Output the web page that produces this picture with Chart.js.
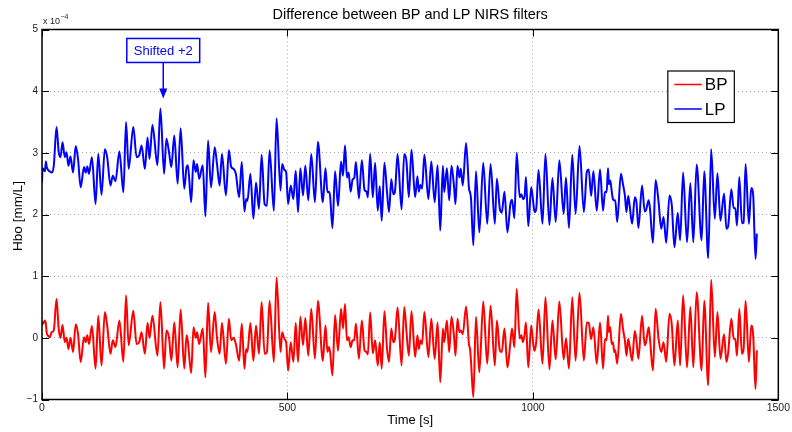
<!DOCTYPE html>
<html><head><meta charset="utf-8">
<script src="https://cdn.jsdelivr.net/npm/chart.js@4/dist/chart.umd.min.js"></script>
<style>html,body{margin:0;padding:0;background:#fff}canvas{display:block}</style>
</head><body>
<canvas id="c" width="792" height="432"></canvas>
<script>
// Time axis (s)
const times = [
0,1.3,6,8,9.4,12.8,16,19.5,24,29.6,34,37.7,41.8,46.5,49.9,53.9,58,63.3,68.7,73.4,
78.8,85.6,89,92.3,95.7,101.7,109.2,114.6,121.3,128,132.8,139.5,144.2,149.6,157.7,165.8,171.2,176.5,186,192.7,
198.1,202.8,209.6,215,219,225,235.2,241.2,248.7,253.4,258.8,263.5,269.5,276.3,282.4,289.8,294.5,297.2,303.9,308.6,
313.3,316,320.1,327.5,332.9,338.3,344.3,351.8,356.5,361.9,366.6,374.7,380.7,385.5,
390.2,394.9,401.6,407,412.4,415.8,418.5,424.5,430.6,436,442,447.4,453.5,458.2,463.6,472.4,477.8,485.9,489.2,493.9,
497.3,501.4,506.7,512.1,516.9,521.6,526.3,531.7,536.4,542.5,548.5,556,562,572.1,
577.5,581.5,584.2,586.9,591.7,597,603.1,609.2,613.2,617.3,621.3,624.7,628.7,632.8,636.1,639.5,645.6,651.6,657,661.1,
663.8,668.5,673.9,678.6,684,688,692.1,697.5,702.9,706.9,711.6,715.6,719,724.4,732.5,737.9,742.6,747.3,752.7,760.1,
764.8,767.5,770.9,774.3,
779,787.1,793.1,799.9,805.9,811.3,816.7,819.4,824.8,829.5,834.2,839.6,842.3,846.4,850.4,853.1,857.2,863.9,870,872,
874,878.7,884.1,890.9,898.9,907,913.8,922.5,926.6,932.6,936.7,942.1,948.1,954.2,957.6,962.3,
967,973.1,976.4,979.8,983.2,985.9,990.6,996.6,1000.7,1003.4,1006.8,1011.5,1019.6,1025.6,1033.7,1039.8,1046.5,1053.9,1062.7,1067.4,
1073.5,1080.2,1087,1095,1103.8,1109.9,1113.9,1118.6,1123.3,1130.1,1136.8,1142.9,1146.9,1150.3,1153,
1155,1157.7,1160.4,1163.1,1165.8,1167.8,1171.8,1179.3,1184,1187.4,1190.7,1194.1,1196.8,1202.2,1207.6,1211,1215,1222.4,1227.8,1230.5,
1235.9,1238.6,1244.6,1250,1256.1,1261.5,1266.2,1271.6,1278.3,1283,1288.4,1295.2,1299.9,1306,1314,1320.8,1326.8,1333.6,1343.7,1349.1,
1357.2,1363.2,1370.6,1376,1382.1,1389.5,1394.2,1397.6,1404.3,1409.1,1412.4,1415.8,1420.5,1425.9,1429.3,1433.3,1440.1,1444.8,1448.8,1453.5,
1456.2
];
// BP filtered Hbo (x 1e-4 mm/L)
const bp = [
0.24,0.22,0.28,0.22,0.09,0.03,0.01,0.09,0.12,0.63,0.15,0.00,0.21,-0.07,0.00,-0.18,0.00,-0.23,0.22,0.06,
-0.39,0.01,-0.07,0.04,-0.10,0.19,-0.50,0.36,-0.45,0.42,0.20,-0.26,-0.04,-0.15,0.28,-0.39,0.69,-0.12,0.44,-0.10,
-0.07,0.09,-0.26,0.24,0.00,0.36,-0.29,0.58,-0.50,0.12,0.00,-0.37,0.25,-0.48,0.46,-0.50,0.04,-0.06,-0.57,0.17,
0.00,0.09,-0.10,0.15,-0.64,0.57,-0.23,0.42,0.00,-0.26,0.24,-0.42,0.31,-0.04,
0.00,-0.10,-0.37,0.23,-0.50,-0.18,-0.23,0.24,-0.37,0.20,-0.26,0.58,-0.26,-0.23,0.60,-0.39,0.98,-0.23,0.09,-0.02,
-0.07,-0.53,-0.07,-0.39,0.24,-0.39,0.34,-0.12,0.32,-0.29,0.47,-0.34,0.60,-0.37,
0.20,-0.23,-0.15,-0.23,-0.61,0.37,-0.21,0.47,0.15,0.55,-0.04,0.01,-0.15,-0.04,-0.04,0.23,-0.34,0.28,-0.20,-0.23,
-0.27,0.41,-0.25,-0.04,-0.45,-0.07,-0.50,0.43,-0.18,-0.39,0.15,-0.07,-0.02,0.49,-0.45,0.50,0.09,-0.29,0.43,-0.31,
0.04,-0.18,-0.04,-0.10,
0.42,-0.31,0.31,-0.34,0.25,-0.72,0.15,-0.07,0.28,-0.23,0.34,0.00,-0.29,0.31,0.09,0.12,0.06,0.51,-0.12,-0.18,
-0.39,-0.96,0.34,-0.56,0.59,-0.42,0.52,-0.45,0.28,-0.20,-0.23,0.15,-0.48,-0.07,0.15,-0.15,
0.79,-0.01,0.04,-0.07,0.06,0.25,-0.48,0.20,-0.10,-0.21,-0.07,0.46,-0.42,0.66,-0.51,0.28,-0.35,0.59,-0.35,-0.01,
-0.50,0.66,-0.37,0.73,-0.37,0.25,0.24,-0.02,0.17,-0.42,0.25,-0.50,-0.02,-0.04,0.36,
0.09,0.17,-0.10,-0.07,-0.23,-0.20,-0.42,0.39,0.12,-0.04,-0.29,-0.02,-0.12,-0.37,0.11,-0.04,-0.34,0.36,-0.12,-0.07,
0.17,-0.02,-0.53,0.47,-0.02,-0.23,-0.07,-0.39,0.39,0.21,-0.45,0.28,-0.45,0.69,-0.48,0.50,-0.48,0.74,-0.53,0.60,
-0.77,0.94,-0.31,0.42,-0.34,0.06,-0.39,-0.26,0.31,-0.02,-0.02,-0.29,0.47,-0.26,-0.18,0.60,-0.39,0.20,0.04,-0.83,
-0.20
];
// LP filtered Hbo, shifted +2 (x 1e-4 mm/L)
const lp = [
2.52,2.75,2.70,2.86,2.78,2.72,2.70,2.68,2.79,3.42,3.01,2.93,3.17,2.93,3.01,2.79,2.94,2.68,3.11,2.90,
2.44,2.77,2.68,2.78,2.66,2.93,2.17,2.98,2.32,3.06,2.93,2.47,2.63,2.54,3.02,2.36,3.50,2.74,3.42,2.93,
2.96,3.12,2.74,3.25,2.90,3.45,2.80,3.72,2.66,3.23,3.01,2.77,3.28,2.50,3.40,2.42,2.77,2.80,2.20,2.88,
2.69,2.82,2.58,2.80,1.97,3.20,2.44,3.09,2.82,2.47,2.98,2.31,3.04,2.77,
2.74,2.66,2.28,2.85,2.05,2.25,2.22,2.66,1.93,2.52,2.09,2.97,2.17,2.14,3.04,2.06,3.56,2.39,2.82,2.72,
2.69,2.17,2.47,2.25,2.71,2.04,2.75,2.31,2.79,2.23,2.98,2.20,3.18,2.20,
2.75,2.36,2.37,2.30,1.78,2.70,2.14,2.86,2.63,3.12,2.60,2.68,2.37,2.57,2.59,2.85,2.26,2.88,2.40,2.37,
2.28,2.98,2.28,2.84,2.06,2.46,1.90,2.84,2.36,2.04,2.57,2.33,2.37,2.98,2.08,2.98,2.85,2.28,3.05,2.28,
2.62,2.37,2.48,2.42,
2.97,2.25,2.86,2.20,2.80,1.74,2.79,2.36,2.75,2.23,2.79,2.43,2.17,2.79,2.60,2.74,2.47,3.16,2.41,2.36,
2.25,1.50,2.70,1.71,2.84,1.85,2.82,1.85,2.58,2.10,2.03,2.37,1.71,2.17,2.24,1.94,
3.00,2.28,2.33,2.25,2.30,2.61,1.81,2.44,2.20,2.04,2.09,2.72,1.85,2.98,1.83,2.59,1.88,2.88,2.01,2.60,
1.78,2.97,2.01,3.11,2.04,2.69,2.73,2.30,2.70,2.06,2.73,2.06,2.37,2.36,2.75,
2.49,2.55,2.39,2.25,2.23,2.23,1.88,2.66,2.47,2.31,2.04,2.30,2.17,1.85,2.28,2.20,1.78,2.47,2.05,2.07,
2.23,2.09,1.54,2.56,2.20,1.77,1.96,1.54,2.31,2.15,1.47,2.03,1.58,2.68,1.55,2.51,1.55,2.81,1.58,2.70,
1.29,3.06,1.93,2.67,1.90,2.34,1.77,1.80,2.41,2.10,2.10,1.82,2.61,1.86,1.87,2.82,1.85,2.43,2.31,1.28,
1.69
];
const xTicks = [0, 500, 1000, 1500];
const yTicks = [-1, 0, 1, 2, 3, 4, 5];
const seriesNames = ['BP', 'LP'];
const seriesColors = ['#ff0000', '#0000ff'];
const titleText = 'Difference between BP and LP NIRS filters';
const xLabel = 'Time [s]';
const yLabel = 'Hbo [mm/L]';
const multiplierBase = 'x 10';
const multiplierExp = '\u22124';
const annotationText = 'Shifted +2';
const annotationBox = [247, 4.66];   // centre of label (s, 1e-4)
const annotationTip = [247, 3.88];   // arrow tip (s, 1e-4)

const FONT = '"Liberation Sans", Arial, Helvetica, sans-serif';

const overlay = {
  id: 'overlay',
  afterDraw(chart) {
    const { ctx, chartArea: a, scales: { x, y } } = chart;
    ctx.save();
    // inner tick marks (MATLAB style)
    ctx.strokeStyle = '#000';
    ctx.lineWidth = 1;
    const tl = 7;
    ctx.beginPath();
    for (const v of xTicks) {
      const px = Math.round(x.getPixelForValue(v)) + 0.5;
      ctx.moveTo(px, a.bottom); ctx.lineTo(px, a.bottom - tl);
      ctx.moveTo(px, a.top); ctx.lineTo(px, a.top + tl);
    }
    for (const v of yTicks) {
      const py = Math.round(y.getPixelForValue(v)) + 0.5;
      ctx.moveTo(a.left, py); ctx.lineTo(a.left + tl, py);
      ctx.moveTo(a.right, py); ctx.lineTo(a.right - tl, py);
    }
    ctx.stroke();
    // axes box
    ctx.lineWidth = 1.5;
    ctx.strokeRect(a.left, a.top, a.right - a.left, a.bottom - a.top);

    const cx = (a.left + a.right) / 2;
    ctx.fillStyle = '#000';
    ctx.textAlign = 'center';
    ctx.textBaseline = 'middle';
    // title
    ctx.font = '14.5px ' + FONT;
    ctx.fillText(titleText, cx, 15);
    // x label
    ctx.font = '13px ' + FONT;
    ctx.fillText(xLabel, cx, 420);
    // y label
    ctx.save();
    ctx.translate(18, 216);
    ctx.rotate(-Math.PI / 2);
    ctx.font = '13.5px ' + FONT;
    ctx.fillText(yLabel, 0, 0);
    ctx.restore();
    // multiplier
    ctx.textAlign = 'left';
    ctx.font = '9px ' + FONT;
    ctx.fillStyle = '#222';
    ctx.fillText(multiplierBase, a.left + 1, 21.5);
    const w = ctx.measureText(multiplierBase).width;
    ctx.font = '7px ' + FONT;
    ctx.fillText(multiplierExp, a.left + 1 + w + 0.5, 17.5);

    // annotation
    const bx = x.getPixelForValue(annotationBox[0]);
    const by = y.getPixelForValue(annotationBox[1]);
    const tx = x.getPixelForValue(annotationTip[0]);
    const ty = y.getPixelForValue(annotationTip[1]);
    ctx.font = '13px ' + FONT;
    const tw = ctx.measureText(annotationText).width;
    const bw = tw + 14, bh = 24;
    ctx.fillStyle = '#fff';
    ctx.fillRect(bx - bw / 2, by - bh / 2, bw, bh);
    ctx.strokeStyle = '#0000ff';
    ctx.lineWidth = 1.5;
    ctx.strokeRect(bx - bw / 2, by - bh / 2, bw, bh);
    ctx.fillStyle = '#0000ff';
    ctx.textAlign = 'center';
    ctx.fillText(annotationText, bx, by + 0.5);
    ctx.beginPath();
    ctx.moveTo(tx, by + bh / 2);
    ctx.lineTo(tx, ty - 8);
    ctx.stroke();
    ctx.beginPath();
    ctx.moveTo(tx, ty);
    ctx.lineTo(tx - 4, ty - 10);
    ctx.lineTo(tx + 4, ty - 10);
    ctx.closePath();
    ctx.fill();

    // legend
    const lx = a.right - 110.5, ly = a.top + 41.5, lw = 66.5, lh = 51.5;
    ctx.fillStyle = '#fff';
    ctx.fillRect(lx, ly, lw, lh);
    ctx.strokeStyle = '#000';
    ctx.lineWidth = 1.2;
    ctx.strokeRect(lx, ly, lw, lh);
    ctx.font = '17px ' + FONT;
    ctx.textAlign = 'left';
    seriesNames.forEach((n, i) => {
      const yy = ly + 13.5 + i * 24.5;
      ctx.strokeStyle = seriesColors[i];
      ctx.lineWidth = 1.5;
      ctx.beginPath();
      ctx.moveTo(lx + 6.5, yy);
      ctx.lineTo(lx + 34, yy);
      ctx.stroke();
      ctx.fillStyle = '#000';
      ctx.fillText(n, lx + 37, yy + 1);
    });
    ctx.restore();
  }
};

const mk = (vals) => times.map((t, i) => ({ x: t, y: vals[i] }));
const fmt = v => (v < 0 ? '\u2212' + Math.abs(v) : String(v));

new Chart(document.getElementById('c'), {
  type: 'line',
  data: {
    datasets: [
      { label: seriesNames[0], data: mk(bp), borderColor: seriesColors[0], borderWidth: 2, pointRadius: 0, cubicInterpolationMode: 'monotone', fill: false },
      { label: seriesNames[1], data: mk(lp), borderColor: seriesColors[1], borderWidth: 2, pointRadius: 0, cubicInterpolationMode: 'monotone', fill: false }
    ]
  },
  options: {
    responsive: false,
    animation: false,
    devicePixelRatio: 1,
    layout: { padding: { left: 0, right: 9, top: 29.5, bottom: 0 } },
    plugins: { legend: { display: false }, title: { display: false }, tooltip: { enabled: false } },
    scales: {
      x: {
        type: 'linear', min: 0, max: 1500,
        afterBuildTicks: s => { s.ticks = xTicks.map(v => ({ value: v })); },
        afterFit: s => { s.height = 32.5; },
        grid: { color: '#a8a8a8', drawTicks: false, lineWidth: 1 },
        border: { display: false, dash: [1, 3] },
        ticks: { padding: 2, color: '#222', maxRotation: 0, font: { family: FONT, size: 10.5 }, callback: fmt }
      },
      y: {
        type: 'linear', min: -1, max: 5,
        afterBuildTicks: s => { s.ticks = yTicks.map(v => ({ value: v })); },
        afterFit: s => { s.width = 42; },
        grid: { color: '#a8a8a8', drawTicks: false, lineWidth: 1 },
        border: { display: false, dash: [1, 3] },
        ticks: { padding: 4, color: '#222', font: { family: FONT, size: 10 }, callback: fmt }
      }
    }
  },
  plugins: [overlay]
});
</script>
</body></html>
